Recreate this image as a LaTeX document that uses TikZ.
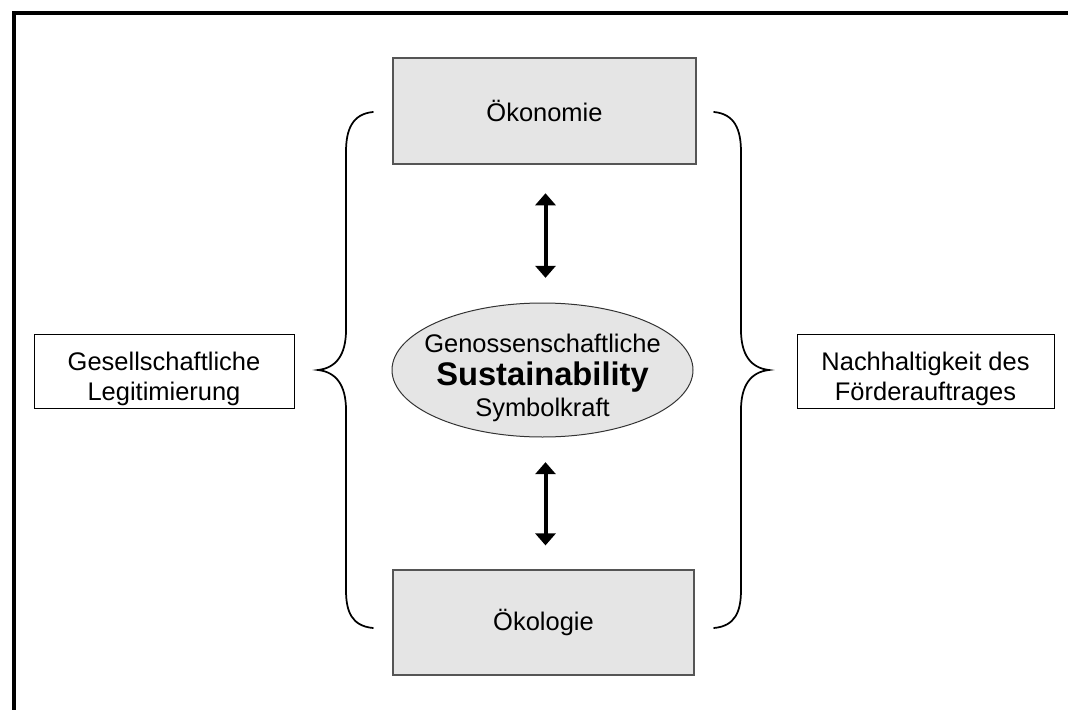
\documentclass[tikz,border=0pt]{standalone}
\usepackage{fontspec}
\setmainfont{Liberation Sans}
\usetikzlibrary{arrows.meta,shapes.geometric,calc}
\definecolor{boxgray}{HTML}{E5E5E5}
\definecolor{edgegray}{HTML}{555555}
\newcommand{\topgap}{\rule{0pt}{25pt}}
\tikzset{
  txt/.style={font=\fontsize{19.1}{22.5}\selectfont, align=center},
  pillar/.style={txt, draw=edgegray, line width=0.9pt, fill=boxgray, inner sep=0pt},
  sidebox/.style={txt, draw=black, line width=0.75pt, fill=white, inner sep=0pt},
  core/.style={txt, font=\fontsize{19.1}{23.25}\selectfont, ellipse, draw=black!80,
    line width=0.75pt, fill=boxgray, inner xsep=-10pt, inner ysep=-5pt,
    minimum width=225.75pt, minimum height=100.5pt},
  link/.style={line width=3pt, {Triangle[length=9pt,width=15pt]}-{Triangle[length=9pt,width=15pt]}},
  brace/.style={line width=1.3pt, line cap=round}
}
\begin{document}
\begin{tikzpicture}[x=0.75pt, y=-0.75pt]
\useasboundingbox (0,0) rectangle (1068,710);
% outer frame: top and left edges
\draw[line width=3pt] (13.5,710) -- (13.5,13.5) -- (1068,13.5);

% the two pillars
\node[pillar, minimum width=227.25pt, minimum height=79.5pt] (oek) at (544.5,111) {Ökonomie};
\node[pillar, minimum width=225.75pt, minimum height=78.75pt] (eko) at (543.5,622.5) {Ökologie};

% core ellipse
\node[core] (core) at (542.5,370) {\topgap Genossenschaftliche\\[1.5pt]
  {\fontsize{24.5}{26}\selectfont\bfseries Sustainability}\\
  Symbolkraft};

% side boxes
\node[sidebox, minimum width=195pt, minimum height=55.5pt] (left) at (164,371)
  {\topgap Gesellschaftliche\\Legitimierung};
\node[sidebox, minimum width=192.75pt, minimum height=55.5pt] (right) at (925.5,371)
  {\topgap Nachhaltigkeit des\\Förderauftrages};

% double arrows between pillars and core
\draw[link, shorten <=21.5pt, shorten >=18.5pt] ($(oek.south)+(1,0)$) -- ($(core.north)+(3,0)$);
\draw[link, shorten <=18.5pt, shorten >=18pt] ($(core.south)+(3,0)$) -- ($(eko.north)+(2,0)$);

% curly braces
\draw[brace] (373,112) .. controls (352,114) and (346,130) .. (346,152)
  -- (346,330) .. controls (346,355) and (336,368) .. (318,370)
  .. controls (336,372) and (346,385) .. (346,410)
  -- (346,590) .. controls (346,612) and (352,626) .. (373,628);
\draw[brace] (714,112) .. controls (735,114) and (741,130) .. (741,152)
  -- (741,330) .. controls (741,355) and (751,368) .. (769,370)
  .. controls (751,372) and (741,385) .. (741,410)
  -- (741,590) .. controls (741,612) and (735,626) .. (714,628);
\end{tikzpicture}
\end{document}
